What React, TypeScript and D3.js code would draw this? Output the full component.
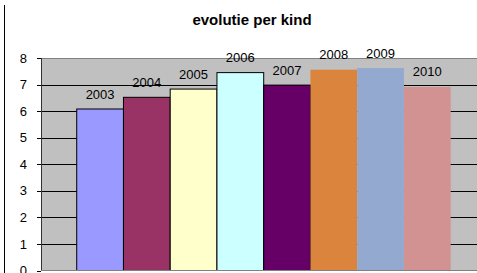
import React, { useEffect, useRef } from 'react';
import * as d3 from 'd3';

const years = ['2003', '2004', '2005', '2006', '2007', '2008', '2009', '2010'];
const values = [6.08, 6.52, 6.83, 7.45, 6.98, 7.56, 7.62, 6.91];
const barColors = ['#9999FF', '#993366', '#FFFFCC', '#CCFFFF', '#660066', '#DB843D', '#94A9D0', '#D39292'];
const outlined = [true, true, true, true, true, false, false, false];
const yTicks = [0, 1, 2, 3, 4, 5, 6, 7, 8];

const App = () => {
  const svgRef = useRef<SVGSVGElement>(null);

  useEffect(() => {
    const svg = d3.select(svgRef.current);
    svg.selectAll('*').remove();

    const width = 477;
    const height = 273;
    const left = 41;
    const right = 486.4;
    const top = 58;
    const bottom = 270.5;
    const font = '"Liberation Sans", Arial, sans-serif';

    const x = d3.scaleBand<string>()
      .domain(years)
      .range([left, right])
      .paddingInner(0)
      .paddingOuter(0.764);

    const y = d3.scaleLinear()
      .domain([0, 8])
      .range([bottom, top]);

    // outer border on the left
    svg.append('line')
      .attr('x1', 4.5).attr('x2', 4.5)
      .attr('y1', 5).attr('y2', height)
      .attr('stroke', '#000')
      .attr('stroke-width', 1);

    // plot background
    svg.append('rect')
      .attr('x', left).attr('y', top)
      .attr('width', right - left).attr('height', bottom - top)
      .attr('fill', '#C0C0C0');

    // gridlines
    svg.selectAll('.grid')
      .data(yTicks.filter(t => t > 0))
      .enter().append('line')
      .attr('x1', left).attr('x2', right)
      .attr('y1', d => Math.round(y(d)) + 0.5)
      .attr('y2', d => Math.round(y(d)) + 0.5)
      .attr('stroke', d => (d === 8 ? '#808080' : '#000'))
      .attr('stroke-width', 1);

    // bars
    svg.selectAll('.bar')
      .data(values)
      .enter().append('rect')
      .attr('x', (d, i) => x(years[i])!)
      .attr('y', d => y(d))
      .attr('width', x.bandwidth())
      .attr('height', d => bottom - y(d))
      .attr('fill', (d, i) => barColors[i])
      .attr('stroke', (d, i) => (outlined[i] ? '#000' : 'none'))
      .attr('stroke-width', 1);

    // data labels
    svg.selectAll('.lbl')
      .data(values)
      .enter().append('text')
      .attr('x', (d, i) => x(years[i])! + x.bandwidth() / 2)
      .attr('y', d => y(d) - 10.5)
      .attr('text-anchor', 'middle')
      .attr('font-family', font)
      .attr('font-size', 13)
      .attr('fill', '#000')
      .text((d, i) => years[i]);

    // y axis
    svg.append('line')
      .attr('x1', left + 0.5).attr('x2', left + 0.5)
      .attr('y1', top).attr('y2', bottom)
      .attr('stroke', '#333');

    svg.append('line')
      .attr('x1', left).attr('x2', right)
      .attr('y1', bottom).attr('y2', bottom)
      .attr('stroke', '#808080');

    svg.selectAll('.tick')
      .data(yTicks)
      .enter().append('line')
      .attr('x1', left - 4).attr('x2', left)
      .attr('y1', d => Math.round(y(d)) + 0.5)
      .attr('y2', d => Math.round(y(d)) + 0.5)
      .attr('stroke', '#000');

    svg.selectAll('.tlbl')
      .data(yTicks)
      .enter().append('text')
      .attr('x', 27)
      .attr('y', d => y(d))
      .attr('dy', '0.36em')
      .attr('text-anchor', 'end')
      .attr('font-family', font)
      .attr('font-size', 13)
      .attr('fill', '#000')
      .text(d => d);

    // title
    svg.append('text')
      .attr('x', 252)
      .attr('y', 25)
      .attr('text-anchor', 'middle')
      .attr('font-family', font)
      .attr('font-size', 15)
      .attr('font-weight', 'bold')
      .attr('fill', '#000')
      .text('evolutie per kind');

    svg.attr('width', width).attr('height', height);
  }, []);

  return (
    <svg
      ref={svgRef}
      style={{ position: 'absolute', left: 0, top: 0, background: '#fff' }}
    />
  );
};

export default App;
